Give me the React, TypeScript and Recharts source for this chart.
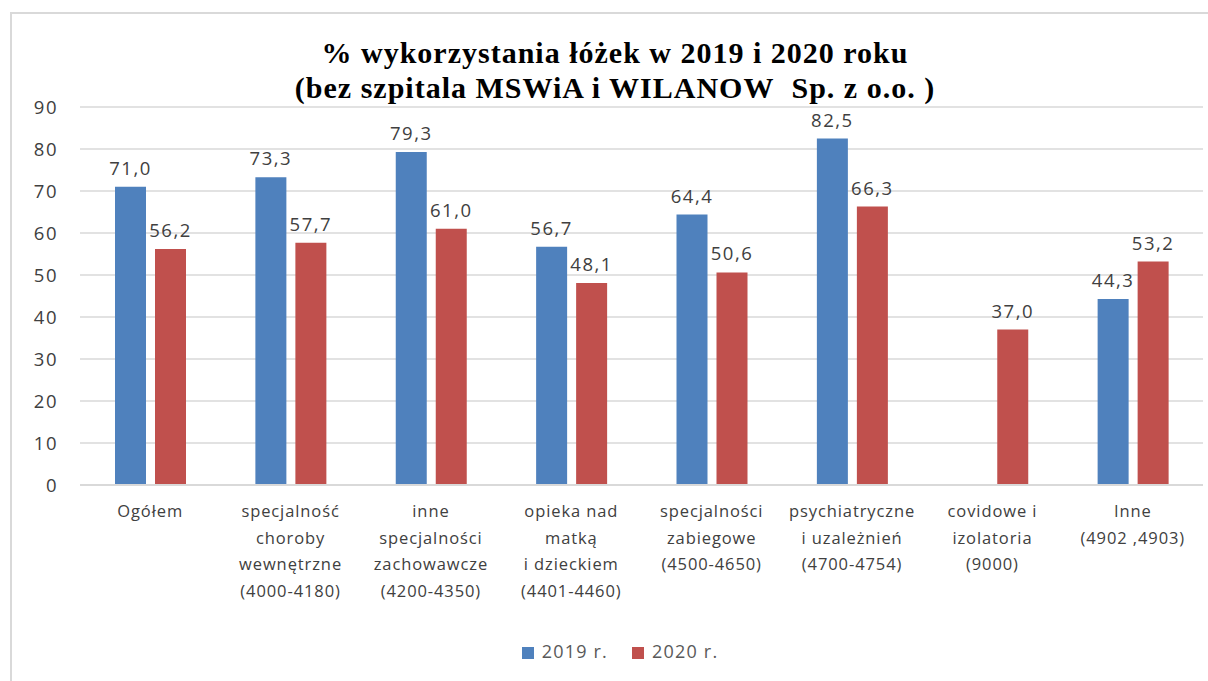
import { BarChart, Bar, XAxis, YAxis, CartesianGrid, Legend, LabelList } from 'recharts';

const categories = [
    'Ogółem',
    'specjalność\nchoroby\nwewnętrzne\n(4000-4180)',
    'inne\nspecjalności\nzachowawcze\n(4200-4350)',
    'opieka nad\nmatką\ni dzieckiem\n(4401-4460)',
    'specjalności\nzabiegowe\n(4500-4650)',
    'psychiatryczne\ni uzależnień\n(4700-4754)',
    'covidowe i\nizolatoria\n(9000)',
    'Inne\n(4902 ,4903)',
];
const values2019: (number | null)[] = [71.0, 73.3, 79.3, 56.7, 64.4, 82.5, null, 44.3];
const values2020: (number | null)[] = [56.2, 57.7, 61.0, 48.1, 50.6, 66.3, 37.0, 53.2];
const yTicks = [0, 10, 20, 30, 40, 50, 60, 70, 80, 90];

const data = categories.map((name, i) => ({ name, y2019: values2019[i], y2020: values2020[i] }));

const TEXT = '#404040';
const FONT = '"Open Sans", "Liberation Sans", sans-serif';

const fmt = (v: any) => (v == null ? '' : Number(v).toFixed(1).replace('.', ','));

function CategoryTick({ x, y, payload }: any) {
    const lines = String(payload.value).split('\n');
    return (
        <text x={x} y={y} textAnchor="middle" fill={TEXT} fontSize={16.5} fontFamily={FONT} letterSpacing={0.9}>
            {lines.map((line, i) => (
                <tspan key={i} x={x} dy={i === 0 ? 24 : 26.5}>{line}</tspan>
            ))}
        </text>
    );
}

export default function App() {
    return (
        <div style={{ position: 'fixed', left: 0, top: 0, width: 1208, height: 681, overflow: 'hidden', background: '#fff' }}>
            <div style={{ position: 'absolute', left: 10, top: 12, width: 1198, height: 669, borderTop: '2px solid #d9d9d9', borderLeft: '2px solid #d9d9d9', boxSizing: 'border-box' }} />
            <div style={{ position: 'absolute', left: 0, top: 35, width: 1208, paddingLeft: 22, boxSizing: 'border-box', textAlign: 'center', fontFamily: '"Liberation Serif", serif', fontWeight: 'bold', fontSize: 30, lineHeight: '35px', letterSpacing: 1, color: '#000', whiteSpace: 'nowrap' }}>
                % wykorzystania łóżek w 2019 i 2020 roku<br />(bez szpitala MSWiA i WILANOW&nbsp; Sp. z o.o. )
            </div>
            <div style={{ position: 'absolute', left: 0, top: 0 }}>
                <BarChart width={1208} height={681} data={data} margin={{ top: 107, right: 5, bottom: 62, left: 0 }} barGap={9} barSize={31}>
                    <CartesianGrid vertical={false} stroke="#d9d9d9" strokeWidth={1.5} />
                    <XAxis dataKey="name" interval={0} tick={<CategoryTick />} tickLine={false} axisLine={{ stroke: '#d9d9d9', strokeWidth: 2 }} height={110} />
                    <YAxis domain={[0, 90]} ticks={yTicks} width={80} tickLine={false} axisLine={false} tickSize={0} tickMargin={22}
                        tick={{ fill: TEXT, fontSize: 18.5, fontFamily: FONT, letterSpacing: 1.5 }} />
                    <Legend verticalAlign="bottom" iconType="square" iconSize={12}
                        wrapperStyle={{ position: 'absolute', left: 40, width: 1184, top: 639, fontFamily: FONT, fontSize: 18, letterSpacing: 1.2 }}
                        formatter={(value: string) => <span style={{ color: '#595959', marginRight: 14, paddingLeft: 4 }}>{value}</span>} />
                    <Bar dataKey="y2019" name="2019 r." fill="#4F81BD" isAnimationActive={false}>
                        <LabelList dataKey="y2019" position="top" offset={12} formatter={fmt} fill={TEXT} fontSize={18.5} fontFamily={FONT} letterSpacing={1.5} />
                    </Bar>
                    <Bar dataKey="y2020" name="2020 r." fill="#C0504D" isAnimationActive={false}>
                        <LabelList dataKey="y2020" position="top" offset={12} formatter={fmt} fill={TEXT} fontSize={18.5} fontFamily={FONT} letterSpacing={1.5} />
                    </Bar>
                </BarChart>
            </div>
        </div>
    );
}
